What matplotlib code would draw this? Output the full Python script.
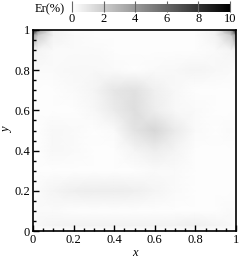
import numpy as np
import matplotlib
matplotlib.use("Agg")
import matplotlib.pyplot as plt
from matplotlib.ticker import MultipleLocator, FormatStrFormatter

# Nós da malha (não uniformes, mais finos perto dos cantos)
x_nodes = [0, 0.025, 0.1, 0.2, 0.3, 0.4, 0.5, 0.6, 0.7, 0.8, 0.9, 0.975, 1]
y_nodes = [0, 0.03, 0.1, 0.2, 0.3, 0.4, 0.5, 0.6, 0.7, 0.8, 0.9, 0.975, 1]

# Erro relativo (%), linhas de y=0 até y=1
er = [
    [0.1, 0.1, 0.1, 0.1, 0.1, 0.1, 0.1, 0.1, 0.1, 0.1, 0.1, 0.1, 0.1],
    [0.1, 0.3, 0.4, 0.5, 0.5, 0.5, 0.5, 0.5, 0.5, 0.6, 0.4, 0.3, 0.1],
    [0.1, 0.2, 0.2, 0.1, 0.1, 0.1, 0.1, 0.1, 0.1, 0.1, 0.1, 0.2, 0.1],
    [0.1, 0.2, 0.4, 0.6, 0.7, 0.7, 0.6, 0.4, 0.2, 0.1, 0.1, 0.1, 0.1],
    [0.1, 0.1, 0.1, 0.1, 0.1, 0.1, 0.1, 0.2, 0.2, 0.1, 0.1, 0.1, 0.1],
    [0.1, 0.1, 0.3, 0.2, 0.1, 0.1, 0.4, 0.7, 0.4, 0.1, 0.1, 0.1, 0.1],
    [0.1, 0.1, 0.3, 0.2, 0.1, 0.2, 1.1, 1.6, 0.8, 0.2, 0.1, 0.2, 0.1],
    [0.1, 0.1, 0.1, 0.1, 0.3, 0.8, 1.3, 0.7, 0.3, 0.2, 0.1, 0.1, 0.1],
    [0.1, 0.1, 0.1, 0.2, 0.4, 1.0, 1.2, 0.6, 0.3, 0.1, 0.1, 0.1, 0.1],
    [0.1, 0.2, 0.2, 0.3, 0.3, 0.2, 0.1, 0.2, 0.3, 0.4, 0.3, 0.2, 0.1],
    [0.6, 0.4, 0.2, 0.2, 0.2, 0.1, 0.1, 0.1, 0.1, 0.1, 0.2, 0.4, 0.6],
    [4.0, 2.0, 0.5, 0.2, 0.1, 0.1, 0.1, 0.1, 0.1, 0.1, 0.5, 2.0, 4.0],
    [10, 4.0, 0.5, 0.1, 0.1, 0.1, 0.1, 0.1, 0.1, 0.1, 0.5, 4.0, 10],
]
cbar_ticks = [0, 2, 4, 6, 8, 10]

plt.rcParams["font.family"] = "Liberation Serif"
plt.rcParams["font.size"] = 9

fig = plt.figure(figsize=(2.44, 2.62), dpi=100)
ax = fig.add_axes([33 / 244, 31 / 262, 203 / 244, 201 / 262])
cax = fig.add_axes([72 / 244, 250 / 262, 158 / 244, 8 / 262])

X, Y = np.meshgrid(x_nodes, y_nodes)
mesh = ax.pcolormesh(X, Y, np.array(er), cmap="gray_r", vmin=0, vmax=10,
                     shading="gouraud")

ax.set_xlim(0, 1)
ax.set_ylim(0, 1)
ax.xaxis.set_major_locator(MultipleLocator(0.2))
ax.yaxis.set_major_locator(MultipleLocator(0.2))
ax.xaxis.set_minor_locator(MultipleLocator(0.05))
ax.yaxis.set_minor_locator(MultipleLocator(0.05))
ax.xaxis.set_major_formatter(FormatStrFormatter("%g"))
ax.yaxis.set_major_formatter(FormatStrFormatter("%g"))
ax.tick_params(which="both", direction="in", top=False, right=False)
ax.tick_params(which="major", length=4, width=1, pad=2)
ax.tick_params(which="minor", length=2, width=1)
for s in ax.spines.values():
    s.set_linewidth(1.2)
ax.set_xlabel("x", style="italic", labelpad=1)
ax.set_ylabel("y", style="italic", labelpad=1)

cb = fig.colorbar(mesh, cax=cax, orientation="horizontal", ticks=cbar_ticks)
cb.outline.set_visible(False)
cax.xaxis.set_ticks_position("bottom")
cax.tick_params(direction="in", length=8, width=0.8, color="#666666", pad=1)
fig.text(35 / 244, 1 - 9 / 262, "Er(%)", ha="left", va="center")

fig.savefig("out.png", dpi=100)
